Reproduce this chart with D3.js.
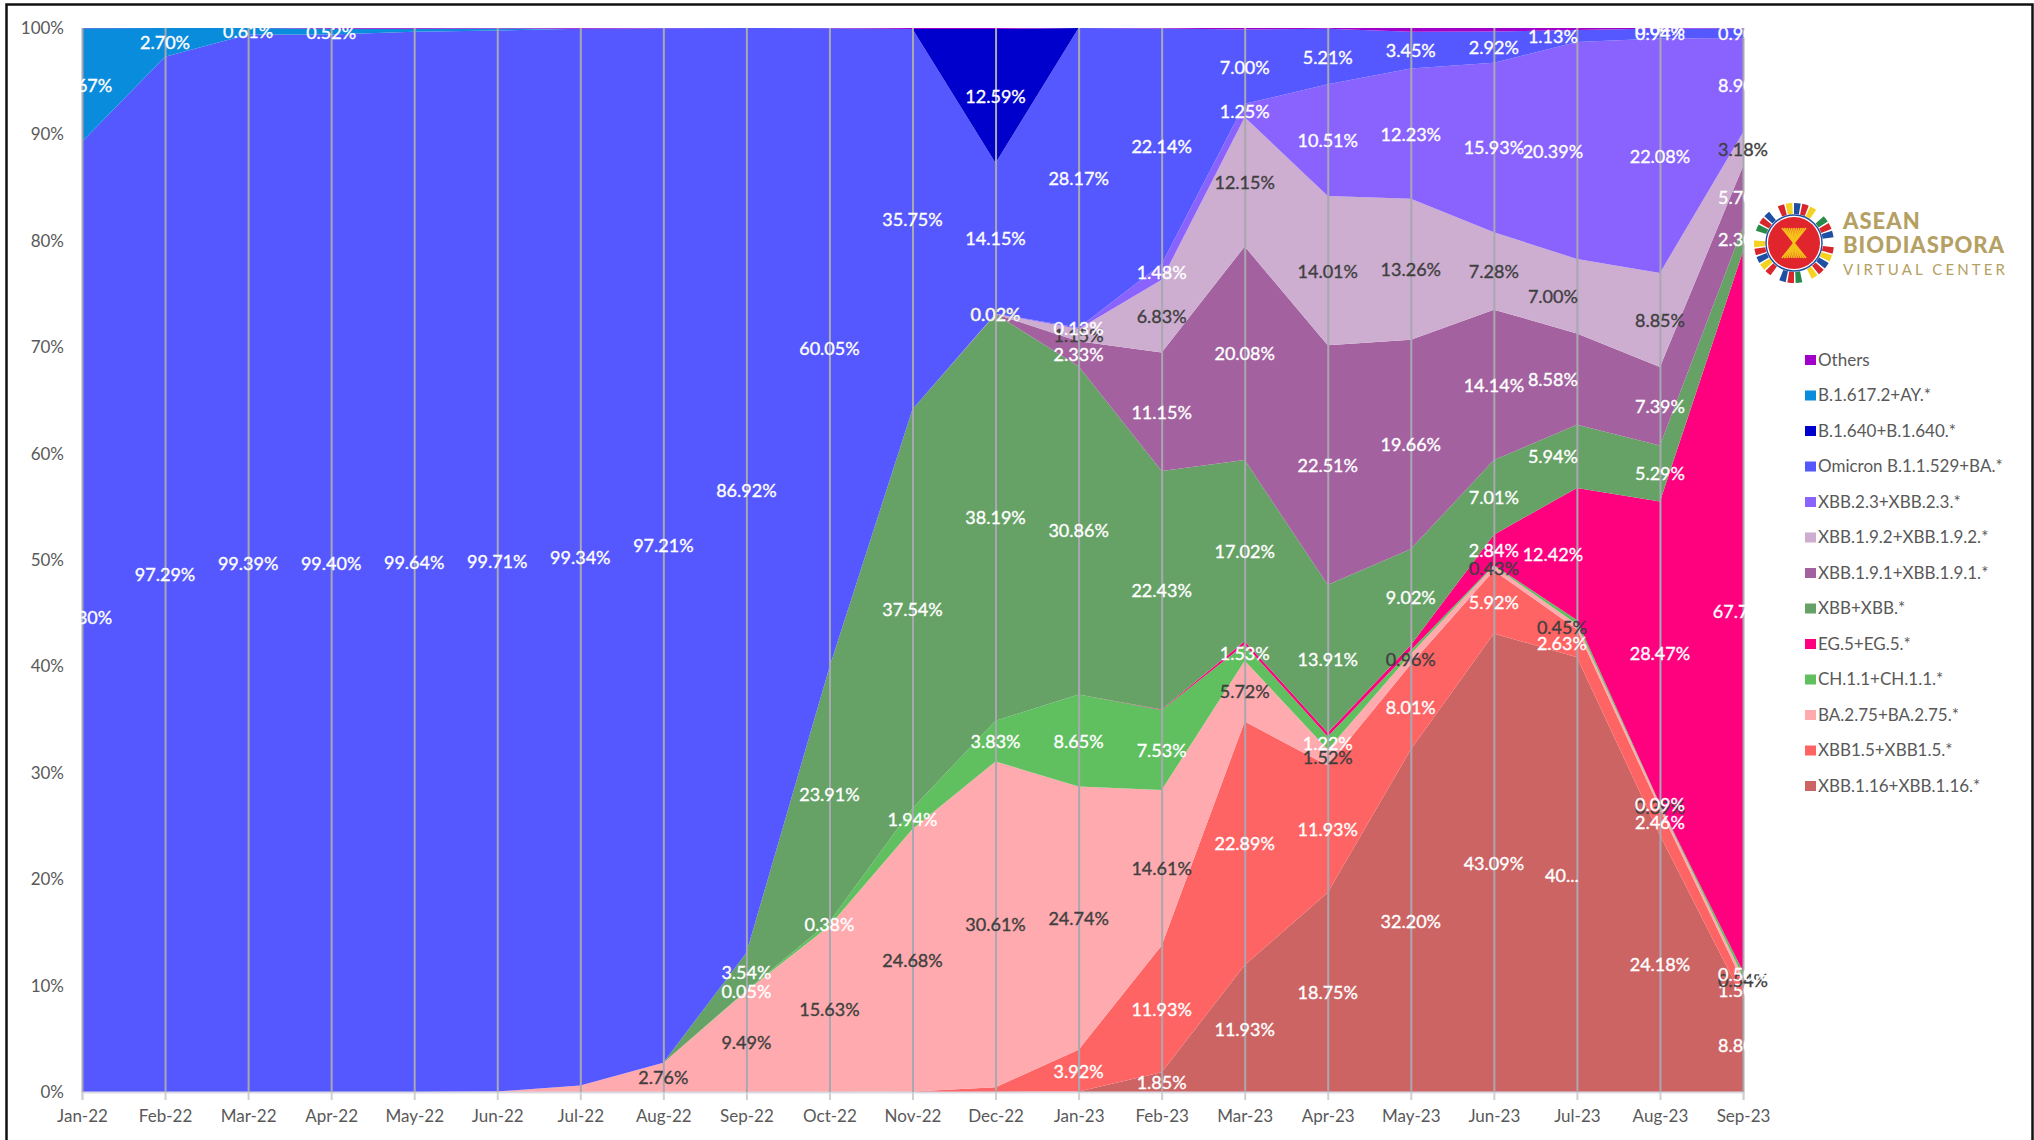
<!DOCTYPE html>
<html lang="en">
<head>
<meta charset="UTF-8">
<title>SARS-CoV-2 variants</title>
<script src="https://d3js.org/d3.v7.min.js"></script>
<style>
    html, body { margin: 0; background: #fff; }
    svg { display: block; }
    text { font-family: Lato, "Open Sans", sans-serif; }
    .axis text { fill: #595959; font-size: 17px; }
    .legend text { fill: #595959; font-size: 17px; }
    .lbl { font-size: 18px; text-anchor: middle; dominant-baseline: central; stroke-width: 0.35; }
</style>
</head>
<body>
<script>
    const width = 2034
    const height = 1140

    const months = ["Jan-22","Feb-22","Mar-22","Apr-22","May-22","Jun-22","Jul-22","Aug-22","Sep-22","Oct-22","Nov-22","Dec-22",
                    "Jan-23","Feb-23","Mar-23","Apr-23","May-23","Jun-23","Jul-23","Aug-23","Sep-23"]

    // stacked bottom to top, percentages
    const xbb116  = [0,0,0,0,0,0,0,0,0,0,0,0,0.05,1.85,11.93,18.75,32.20,43.09,40.87,24.18,8.80]
    const xbb15   = [0,0,0,0,0,0,0,0,0,0,0.05,0.45,3.92,11.93,22.89,11.93,8.01,5.92,2.63,2.46,1.50]
    const ba275   = [0,0,0,0,0,0.05,0.60,2.76,9.49,15.63,24.68,30.61,24.74,14.61,5.72,1.52,0.96,0.43,0.45,0.39,0.54]
    const ch11    = [0,0,0,0,0,0,0,0,0.05,0.38,1.94,3.83,8.65,7.53,1.53,1.22,0.35,0.10,0.40,0.09,0.50]
    const eg5     = [0,0,0,0,0,0,0,0,0,0,0,0,0,0.03,0.30,0.35,0.50,2.84,12.42,28.47,67.70]
    const xbb     = [0,0,0,0,0,0,0,0,3.54,23.91,37.54,38.19,30.86,22.43,17.02,13.91,9.02,7.01,5.94,5.29,2.30]
    const xbb191  = [0,0,0,0,0,0,0,0,0,0,0,0.02,2.33,11.15,20.08,22.51,19.66,14.14,8.58,7.39,5.70]
    const xbb192  = [0,0,0,0,0,0,0,0,0,0,0,0.02,1.15,6.83,12.15,14.01,13.26,7.28,7.00,8.85,3.18]
    const xbb23   = [0,0,0,0,0,0,0,0,0,0,0,0.02,0.13,1.48,1.25,10.51,12.23,15.93,20.39,22.08,8.90]
    const omicron = [89.30,97.29,99.39,99.40,99.64,99.71,99.34,97.21,86.92,60.05,35.75,14.15,28.17,22.14,7.00,5.21,3.45,2.92,1.13,0.94,0.90]
    const b1640   = [0,0,0,0,0,0,0,0,0,0,0,12.59,0,0,0,0,0,0,0,0,0]
    const b1617   = [10.67,2.70,0.61,0.52,0.30,0.20,0,0,0,0,0,0,0,0,0,0,0,0,0,0,0]
    const others  = [0.03,0.01,0,0.08,0.06,0.04,0.06,0.03,0,0.03,0.09,0.10,0,0.05,0.13,0.08,0.36,0.34,0.19,0.04,0.03]

    const names = ["XBB.1.16+XBB.1.16.*","XBB1.5+XBB1.5.*","BA.2.75+BA.2.75.*","CH.1.1+CH.1.1.*","EG.5+EG.5.*","XBB+XBB.*",
                   "XBB.1.9.1+XBB.1.9.1.*","XBB.1.9.2+XBB.1.9.2.*","XBB.2.3+XBB.2.3.*","Omicron B.1.1.529+BA.*",
                   "B.1.640+B.1.640.*","B.1.617.2+AY.*","Others"]
    const values = [xbb116,xbb15,ba275,ch11,eg5,xbb,xbb191,xbb192,xbb23,omicron,b1640,b1617,others]
    const colors = ["#cd6464","#ff6464","#ffaaae","#60c060","#ff007f","#66a266","#a3629f","#cdadd0","#8a63ff","#5558ff","#0000cd","#0a8cdc","#a000c8"]
    const darkLabels = ["BA.2.75+BA.2.75.*","XBB.1.9.2+XBB.1.9.2.*"]

    // estimated slivers the chart leaves without a label
    const noLabel = {
        "XBB.1.16+XBB.1.16.*": ["Jan-23"],
        "XBB1.5+XBB1.5.*": ["Nov-22","Dec-22"],
        "BA.2.75+BA.2.75.*": ["Jun-22","Jul-22"],
        "CH.1.1+CH.1.1.*": ["May-23","Jun-23","Jul-23"],
        "EG.5+EG.5.*": ["Feb-23","Mar-23","Apr-23","May-23"],
        "B.1.617.2+AY.*": ["May-22","Jun-22"]
    }
    const othersLabelled = ["Aug-23"]
    const cutLabels = {"XBB.1.16+XBB.1.16.*|Jul-23": "40..."}

    const yTicks = d3.range(0, 1.01, 0.1)
    const legendOrder = names.slice().reverse()

    let svg = d3.select("body").append("svg")
                .attr("width", width).attr("height", height)

    svg.append("rect").attr("x", 6.5).attr("y", 4.5).attr("width", 2026).attr("height", 1140)
        .attr("fill", "none").attr("stroke", "#111").attr("stroke-width", 2.5)

    const x = d3.scalePoint().domain(months).range([82, 1743])
    const y = d3.scaleLinear().domain([0, 1]).range([1092, 28])

    const rows = months.map((m, i) => {
        const row = {month: m}
        names.forEach((n, j) => row[n] = values[j][i])
        return row
    })

    // excel 100% stacked area, so the totals get normalised
    const series = d3.stack().keys(names).offset(d3.stackOffsetExpand)(rows)

    const area = d3.area()
        .x(d => x(d.data.month))
        .y0(d => y(d[0]))
        .y1(d => y(d[1]))

    svg.append("g").selectAll("path")
        .data(series)
        .join("path")
        .attr("d", area)
        .attr("fill", (d, i) => colors[i])

    // bottom axis with pale ticks, grey drop lines go up from each tick
    const plotH = y(0) - y(1)
    const gx = svg.append("g").attr("class", "axis")
        .attr("transform", `translate(0,${y(0)})`)
        .call(d3.axisBottom(x).tickSize(8).tickPadding(10))
    gx.select(".domain").attr("stroke", "#d9d9e4").attr("stroke-width", 2)
    gx.selectAll(".tick line").attr("stroke", "#d0d0d0").attr("stroke-width", 2)
    gx.selectAll(".tick").append("line")
        .attr("y1", -plotH).attr("y2", 0)
        .attr("stroke", "#a8a8b0").attr("stroke-width", 2)

    const gy = svg.append("g").attr("class", "axis")
        .attr("transform", "translate(71,0)")
        .call(d3.axisLeft(y).tickValues(yTicks).tickFormat(d3.format(".0%")).tickSize(0).tickPadding(7))
    gy.select(".domain").remove()

    // data labels, later series on top. They are cut at the top edge of the plot
    svg.append("clipPath").attr("id", "labelClip")
        .append("rect").attr("x", 0).attr("y", y(1)).attr("width", width).attr("height", height)

    const labelData = []
    series.forEach(s => {
        s.forEach(d => {
            const m = d.data.month
            const v = d.data[s.key]
            if (v <= 0) return
            if (s.key == "Others" && !othersLabelled.includes(m)) return
            if ((noLabel[s.key] || []).includes(m)) return
            labelData.push({
                name: s.key,
                month: m,
                mid: (d[0] + d[1]) / 2,
                text: cutLabels[s.key + "|" + m] || v.toFixed(2) + "%"
            })
        })
    })

    // the Jul-23 column sits left of its line in the original
    const labelShift = d => d.month != "Jul-23" ? 0 : (d.mid < 0.45 ? -15 : -24)

    svg.append("g").attr("clip-path", "url(#labelClip)")
        .selectAll("text")
        .data(labelData)
        .join("text")
        .attr("class", "lbl")
        .attr("x", d => x(d.month) + labelShift(d))
        .attr("y", d => y(d.mid))
        .attr("fill", d => darkLabels.includes(d.name) ? "#404040" : "#fff")
        .attr("stroke", d => darkLabels.includes(d.name) ? "#404040" : "#fff")
        .text(d => d.text)

    // legend
    const legendY = d3.scalePoint().domain(legendOrder).range([360, 786])
    const gLegend = svg.append("g").attr("class", "legend")
    const items = gLegend.selectAll("g").data(legendOrder).join("g")
        .attr("transform", d => `translate(1805,${legendY(d)})`)
    items.append("rect").attr("x", 0).attr("y", -5).attr("width", 11).attr("height", 10)
        .attr("fill", d => colors[names.indexOf(d)])
    items.append("text").attr("x", 13).attr("dy", "0.35em").text(d => d)

    // logo
    const logo = svg.append("g").attr("transform", "translate(1794,243)")
    const flagColors = ["#1f4fa3","#d8262c","#f4d21f","#ffffff","#2a8a4a","#d8262c","#1f4fa3","#ffffff","#d8262c","#f4d21f"]
    const ringPieces = d3.range(30)
    const ringArc = d3.arc().innerRadius(29).outerRadius(40)
    logo.selectAll("path.ring").data(ringPieces).join("path")
        .attr("class", "ring")
        .attr("d", i => ringArc({startAngle: i / 30 * 2 * Math.PI, endAngle: (i + 0.8) / 30 * 2 * Math.PI}))
        .attr("fill", i => flagColors[i % flagColors.length])
    logo.append("circle").attr("r", 28).attr("fill", "#ffffff").attr("stroke", "#1f4fa3").attr("stroke-width", 1.5)
    logo.append("circle").attr("r", 26).attr("fill", "#e1252c")
    logo.selectAll("line.sheaf").data(d3.range(-5, 6)).join("line")
        .attr("class", "sheaf")
        .attr("x1", d => d * 2.4).attr("y1", -15)
        .attr("x2", d => -d * 2.4).attr("y2", 15)
        .attr("stroke", "#f6c21c").attr("stroke-width", 1.6)

    const gold = "#b5a063"
    svg.append("text").attr("x", 1843).attr("y", 229).attr("fill", gold)
        .attr("font-size", 22).attr("font-weight", 900).attr("letter-spacing", 1).text("ASEAN")
    svg.append("text").attr("x", 1843).attr("y", 253).attr("fill", gold)
        .attr("font-size", 22).attr("font-weight", 900).attr("letter-spacing", 1).attr("textLength", 162).text("BIODIASPORA")
    svg.append("text").attr("x", 1843).attr("y", 275).attr("fill", gold)
        .attr("font-size", 15).attr("textLength", 162).text("VIRTUAL CENTER")
</script>
</body>
</html>
